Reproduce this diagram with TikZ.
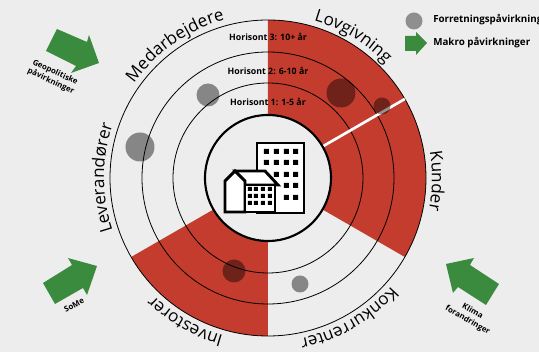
\documentclass[tikz,border=0pt]{standalone}
\usepackage{fontspec}
\setmainfont{Open Sans}
\usetikzlibrary{decorations.text}
\definecolor{paper}{HTML}{EDEDED}
\definecolor{sector}{HTML}{C43C2E}
\definecolor{macro}{HTML}{3B8B3F}
\definecolor{legendgray}{HTML}{8F8F8F}
\newcommand{\ringfont}{\fontsize{12.8}{13}\selectfont}
\tikzset{
  ring/.style={draw=black,line width=0.6pt},
  force/.style={fill=black,fill opacity=0.43},
  macroarrow/.style={fill=macro},
  horizon/.style={font=\fontsize{6.6}{7}\selectfont\bfseries},
  arrowlabel/.style={font=\fontsize{5.9}{7.4}\selectfont\bfseries,align=center},
  legendlabel/.style={font=\fontsize{7.35}{8}\selectfont\bfseries,anchor=west},
  ringtext/.style={decorate,decoration={text along path,text align=center,text={#1}}},
  block/.style={draw=black,line width=2.2pt,fill=white,line join=miter}
}
\begin{document}
\begin{tikzpicture}[x=0.75pt,y=0.75pt]
    \useasboundingbox (-268,-174) rectangle (271,178);
    \fill [paper] (-268,-174) rectangle (271,178);

    % Red sectors
    \fill [sector] (0,0) -- (90:158) arc [start angle=90,end angle=-30,radius=158] -- cycle;
    \fill [sector] (0,0) -- (270:158) arc [start angle=270,end angle=210,radius=158] -- cycle;

    % Horizon rings
    \draw [ring] (0,0) circle [radius=158];
    \draw [ring] (0,0) circle [radius=126];
    \draw [ring] (0,0) circle [radius=95];

    % Gap in the red sector
    \draw [white,line width=2pt] (30:63) -- (30:158);

    % Centre
    \draw [black,line width=1.6pt,fill=paper] (0,0) circle [radius=63];

    % Business forces
    \fill [force] (-128,31) circle [radius=14.5];
    \fill [force] (-60,83) circle [radius=11.5];
    \fill [force] (73,85) circle [radius=14.5];
    \fill [force] (114,72) circle [radius=8.5];
    \fill [force] (-34,-93) circle [radius=11.5];
    \fill [force] (32,-106) circle [radius=8.5];

    % Ring labels
    \path [ringtext={|\ringfont|Medarbejdere}] (165:164) arc [start angle=165,end angle=85,radius=164];
    \path [ringtext={|\ringfont|Lovgivning}] (99:164) arc [start angle=99,end angle=19,radius=164];
    \path [ringtext={|\ringfont|Kunder}] (39:164) arc [start angle=39,end angle=-41,radius=164];
    \path [ringtext={|\ringfont|Konkurrenter}] (-20:164) arc [start angle=-20,end angle=-100,radius=164];
    \path [ringtext={|\ringfont|Investorer}] (-80:164) arc [start angle=-80,end angle=-160,radius=164];
    \path [ringtext={|\ringfont|Leverandører}] (220:164) arc [start angle=220,end angle=140,radius=164];

    % Horizon labels
    \node [horizon] (hor3) at (0,141) {Horisont 3: 10+ år};
    \node [horizon] (hor2) at (0,107) {Horisont 2: 6-10 år};
    \node [horizon] (hor1) at (0,76) {Horisont 1: 1-5 år};

    % Macro arrows
    \fill [macroarrow] (-211,149) -- (-181,136) -- (-179,143) -- (-169,115) -- (-197,105) -- (-192,112) -- (-222,127) -- cycle;
    \fill [macroarrow] (-225,-105) -- (-196,-87) -- (-200,-80) -- (-171,-88) -- (-181,-117) -- (-185,-110) -- (-213,-126) -- cycle;
    \fill [macroarrow] (231,-106) -- (202,-87) -- (206,-80) -- (178,-86) -- (185,-115) -- (190,-109) -- (218,-127) -- cycle;

    % Arrow labels
    \node [arrowlabel,rotate=-25] (geo) at (-215,101) {Geopolitiske\\påvirkninger};
    \node [arrowlabel,rotate=28] (some) at (-194,-127) {SoMe};
    \node [arrowlabel,rotate=-30] (klima) at (202,-138) {Klima\\forandringer};

    % Legend
    \fill [legendgray] (146,157) circle [radius=8.5];
    \fill [macroarrow] (137,142) -- (148,142) -- (148,146) -- (159,135) -- (148,123) -- (148,127) -- (137,127) -- cycle;
    \node [legendlabel,inner sep=0pt] (legforce) at (165,158) {Forretningspåvirkning};
    \node [legendlabel,inner sep=0pt] (legmacro) at (165,135) {Makro påvirkninger};

    % Tower
    \begin{scope}[shift={(-11,-35)}]
    \draw [block] (0,0) rectangle (47,70);
    \fill (7,59) rectangle +(5,5) (17,59) rectangle +(5,5) (27,59) rectangle +(5,5) (36,59) rectangle +(5,5);
    \fill (7,48) rectangle +(5,5) (17,48) rectangle +(5,5) (27,48) rectangle +(5,5) (36,48) rectangle +(5,5);
    \fill (17,36) rectangle +(5,5) (27,36) rectangle +(5,5) (36,36) rectangle +(5,5);
    \fill (27,25) rectangle +(5,5) (36,25) rectangle +(5,5);
    \fill (27,13) rectangle +(5,5) (36,13) rectangle +(5,5);

    % House
    \draw [block] (-22,42) -- (8,42) -- (21,28) -- (-12,28) -- cycle;
    \draw [block] (-22,42) -- (-32,32) -- (-32,1) -- (-12,1) -- (-12,32) -- cycle;
    \draw [block] (-12,1) rectangle (18,28);
    \fill (-9,22) rectangle +(4,4) (-3,22) rectangle +(4,4) (4,22) rectangle +(4,4) (11,22) rectangle +(4,4);
    \fill (-9,15) rectangle +(4,4) (-3,15) rectangle +(4,4) (4,15) rectangle +(4,4) (11,15) rectangle +(4,4);
    \fill (-9,8) rectangle +(4,4) (-3,8) rectangle +(4,4) (4,8) rectangle +(4,4) (11,8) rectangle +(4,4);
    \end{scope}
\end{tikzpicture}
\end{document}
